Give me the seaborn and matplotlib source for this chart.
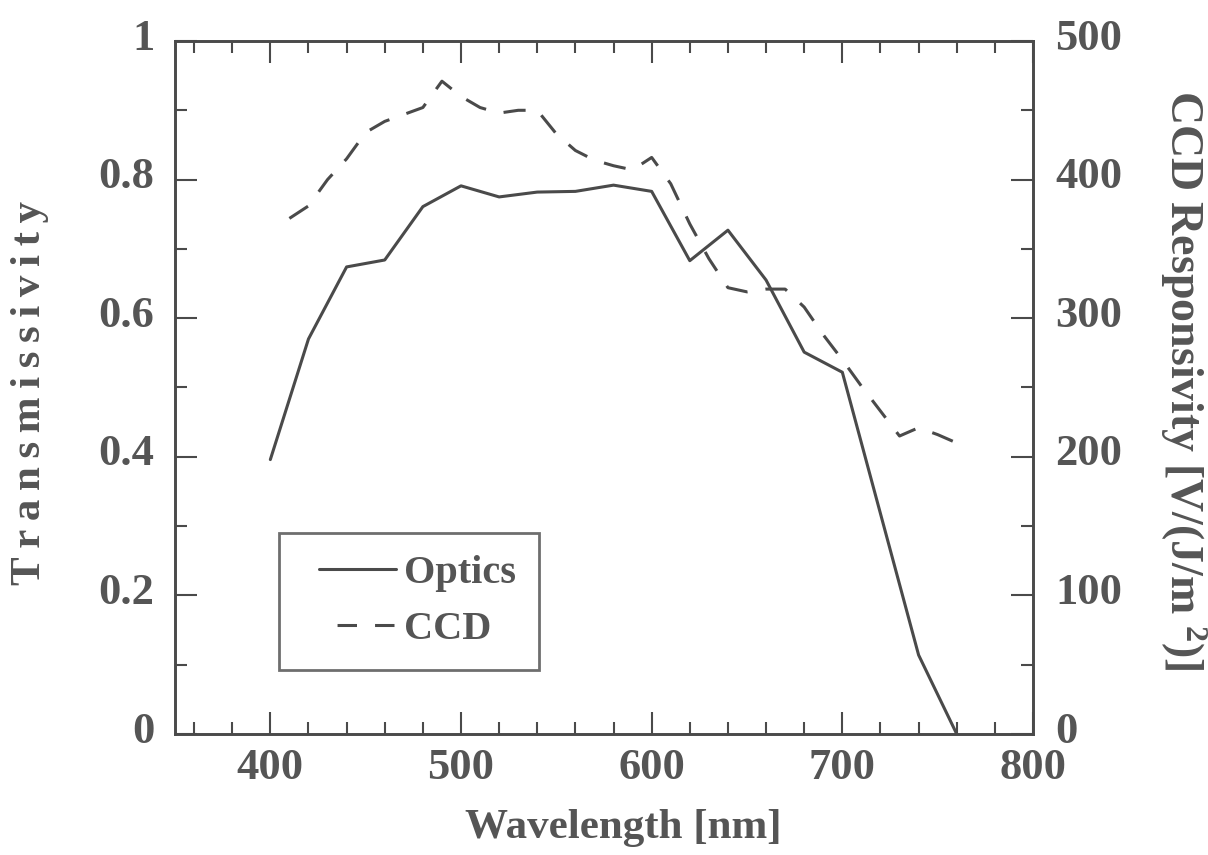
import matplotlib
matplotlib.use("Agg")
import numpy as np
import matplotlib.pyplot as plt
from matplotlib.ticker import MultipleLocator, FixedLocator, FixedFormatter
from matplotlib.transforms import ScaledTranslation
from matplotlib.legend_handler import HandlerLine2D
from matplotlib.lines import Line2D
import seaborn as sns

# Optics transmissivity (left axis)
optics_wavelength = [400, 420, 440, 460, 480, 500, 520, 540, 560, 580,
                     600, 620, 640, 660, 680, 700, 720, 740, 760]
optics_transmissivity = [0.396, 0.570, 0.674, 0.684, 0.761, 0.791, 0.775, 0.782,
                         0.783, 0.792, 0.783, 0.683, 0.727, 0.655, 0.551, 0.522,
                         0.318, 0.114, 0.0]

# CCD responsivity (right axis)
ccd_wavelength = [410, 420, 430, 440, 450, 460, 470, 480, 490, 500, 510, 520,
                  530, 540, 550, 560, 570, 580, 590, 600, 610, 620, 630, 640,
                  650, 660, 670, 680, 690, 700, 710, 720, 730, 740, 750, 760]
ccd_responsivity = [372, 381, 400, 415, 434, 442, 447, 452, 471, 460, 452, 448,
                    450, 450, 433, 421, 414, 410, 407, 416, 397, 368, 343, 322,
                    319, 321, 321, 308, 288, 270, 251, 233, 215, 221, 216, 210]

x_ticks = [400, 500, 600, 700, 800]
left_ticks = [0, 0.2, 0.4, 0.6, 0.8, 1.0]
left_tick_labels = ["0", "0.2", "0.4", "0.6", "0.8", "1"]
right_ticks = [0, 100, 200, 300, 400, 500]
right_tick_labels = ["0", "100", "200", "300", "400", "500"]

sns.set_theme(style="ticks")
plt.rcParams["font.family"] = ["Liberation Serif", "DejaVu Serif"]
plt.rcParams["font.weight"] = "bold"
plt.rcParams["mathtext.fontset"] = "custom"
plt.rcParams["mathtext.rm"] = "Liberation Serif"
plt.rcParams["mathtext.bf"] = "Liberation Serif:bold"
plt.rcParams["mathtext.default"] = "bf"
plt.rcParams["lines.scale_dashes"] = False

INK = "#4a4a4a"
TEXT = "#555555"
FS = 31
TICK_FS = 32
LEGEND_FS = 29


class InsetLineHandler(HandlerLine2D):
    """Legend line that leaves a blank lead-in at the left of the handle box."""

    def get_xdata(self, legend, xdescent, ydescent, width, height, fontsize):
        x0 = -xdescent + 0.19 * width
        x1 = -xdescent + width
        xs = np.array([x0, x1])
        return xs, xs


fig = plt.figure(figsize=(12.08, 8.55), dpi=100)
ax = fig.add_axes([175 / 1208, 1 - 734 / 855, 858 / 1208, 693 / 855])
ax2 = ax.twinx()

sns.lineplot(x=optics_wavelength, y=optics_transmissivity, ax=ax, color=INK,
             linewidth=2.2, sort=False)
sns.lineplot(x=ccd_wavelength, y=ccd_responsivity, ax=ax2, color=INK,
             linewidth=2.2, sort=False, linestyle=(0, (16, 13)))

ax.set_xlim(350, 800)
ax.set_ylim(0, 1)
ax2.set_ylim(0, 500)

ax.xaxis.set_major_locator(FixedLocator(x_ticks))
ax.xaxis.set_minor_locator(MultipleLocator(20))
ax.yaxis.set_major_locator(FixedLocator(left_ticks))
ax.yaxis.set_major_formatter(FixedFormatter(left_tick_labels))
ax.yaxis.set_minor_locator(MultipleLocator(0.1))
ax2.yaxis.set_major_locator(FixedLocator(right_ticks))
ax2.yaxis.set_major_formatter(FixedFormatter(right_tick_labels))
ax2.yaxis.set_minor_locator(MultipleLocator(50))

for a in (ax, ax2):
    for s in a.spines.values():
        s.set_linewidth(1.9)
        s.set_color(INK)
        s.set_visible(True)

ax.tick_params(axis="both", which="both", direction="in", top=True, right=False,
               color=INK, width=1.5, labelcolor=TEXT, labelsize=TICK_FS)
ax.tick_params(axis="both", which="major", length=16)
ax.tick_params(axis="both", which="minor", length=8.5)
ax.tick_params(axis="x", which="major", pad=10)
ax.tick_params(axis="y", which="major", pad=15)
ax2.tick_params(axis="y", which="both", direction="in", right=True, left=False,
                color=INK, width=1.5, labelcolor=TEXT, labelsize=TICK_FS, pad=16)
ax2.tick_params(axis="y", which="major", length=16)
ax2.tick_params(axis="y", which="minor", length=8.5)

ax.set_xlabel("Wavelength [nm]", fontsize=FS, color=TEXT, fontweight="bold")
ax.set_ylabel("\u2009".join("Transmissivity"), fontsize=FS, color=TEXT,
              fontweight="bold")
ax2.set_ylabel(r"CCD Responsivity [V/(J/m $^{2}$)]", fontsize=33, color=TEXT,
               fontweight="bold", rotation=-90, va="bottom")
ax.xaxis.set_label_coords(0.523, -0.108)
ax.yaxis.set_label_coords(-0.147, 0.492)
ax2.yaxis.set_label_coords(1.146, 0.51)

handles = [
    Line2D([], [], color=INK, linewidth=2.2),
    Line2D([], [], color=INK, linewidth=2.2, linestyle=(14, (14, 13))),
]
leg = ax2.legend(handles, ["Optics", "CCD"], loc="upper left",
                 bbox_to_anchor=(0.121, 0.290), fontsize=LEGEND_FS, frameon=True,
                 fancybox=False, shadow=False, handlelength=2.35,
                 handletextpad=0.22, labelspacing=0.45, borderpad=0.55,
                 borderaxespad=0, handler_map={Line2D: InsetLineHandler()})
leg.get_frame().set_edgecolor(INK)
leg.get_frame().set_linewidth(2.0)
for t in leg.get_texts():
    t.set_color(TEXT)
    t.set_fontweight("bold")

# Vertical tick labels sit slightly above their ticks
fig.canvas.draw()
lift = ScaledTranslation(0, 7 / 100, fig.dpi_scale_trans)
for lab in ax.yaxis.get_majorticklabels() + ax2.yaxis.get_majorticklabels():
    lab.set_transform(lab.get_transform() + lift)

fig.savefig("out.png", dpi=100)
